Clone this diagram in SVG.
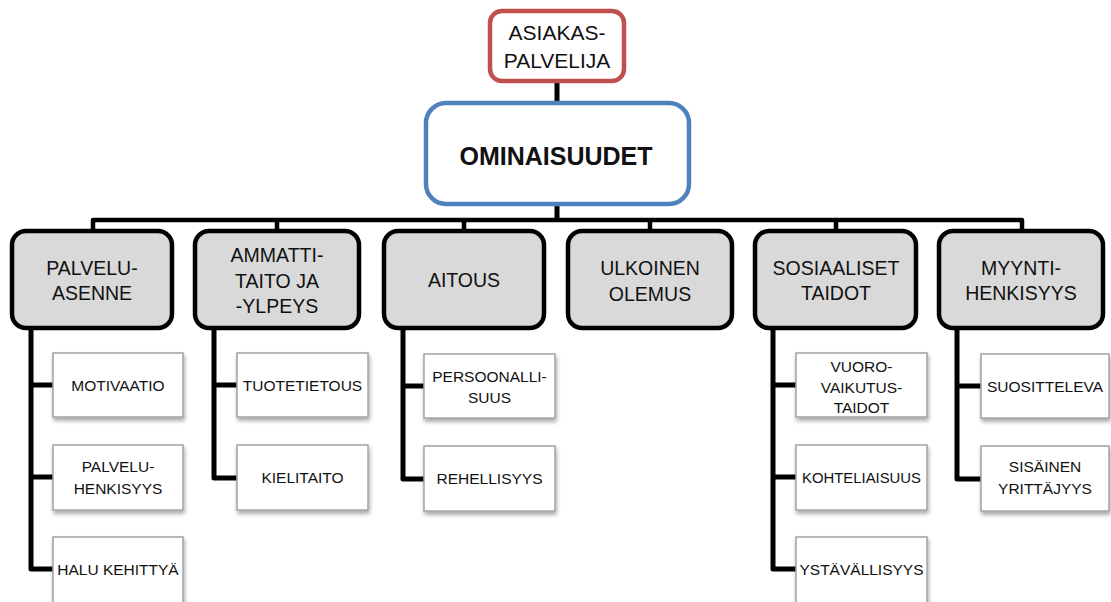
<svg xmlns="http://www.w3.org/2000/svg" width="1111" height="602" viewBox="0 0 1111 602">
  <defs>
    <filter id="shadow" x="-10%" y="-10%" width="125%" height="135%">
      <feDropShadow dx="1" dy="3" stdDeviation="2" flood-color="#000" flood-opacity="0.35"/>
    </filter>
    <style>
      text { font-family: "Liberation Sans", Arial, sans-serif; fill: #111; text-anchor: middle; }
      .root { fill: #fff; stroke: #c0504d; stroke-width: 4.5; }
      .hub { fill: #fff; stroke: #4f81bd; stroke-width: 4.5; }
      .cat { fill: #d9d9d9; stroke: #000; stroke-width: 4.5; }
      .leaf { fill: #fff; stroke: #a3a3a3; stroke-width: 1.5; filter: url(#shadow); }
      .t-root { font-size: 21px; }
      .t-hub { font-size: 25px; font-weight: bold; }
      .t-cat { font-size: 19.5px; }
      .t-leaf { font-size: 15.5px; }
      .wire { fill: none; stroke: #000; stroke-width: 5; stroke-linejoin: round; }
    </style>
  </defs>
  <rect width="1111" height="602" fill="#fff"/>

  <!-- connectors -->
  <g id="connectors" class="wire">
    <path d="M557 81 V103 M557 204 V220"/>
    <path d="M93 232 V220 H1022 V232 M277 220 V232 M464 220 V232 M650 220 V232 M836 220 V232" stroke-width="4.5"/>
    <path d="M53 385 H31 M53 477 H31 M31 328 V569 H53"/>
    <path d="M237 385 H214 M214 328 V478 H237"/>
    <path d="M424 386 H403 M403 328 V479 H424"/>
    <path d="M796 385 H773 M796 477 H773 M773 328 V569 H796"/>
    <path d="M981 386 H957 M957 328 V479 H981"/>
  </g>

  <!-- top level -->
  <g id="asiakaspalvelija">
    <rect class="root" x="490" y="11" width="134" height="70" rx="12"/>
    <text class="t-root" x="557" y="40">ASIAKAS-</text>
    <text class="t-root" x="557" y="68">PALVELIJA</text>
  </g>
  <g id="ominaisuudet">
    <rect class="hub" x="426" y="103" width="263" height="101" rx="20"/>
    <text class="t-hub" x="556" y="165">OMINAISUUDET</text>
  </g>

  <!-- categories -->
  <g id="palveluasenne">
    <rect class="cat" x="12" y="231" width="160" height="97" rx="14"/>
    <text class="t-cat" x="92" y="275">PALVELU-</text>
    <text class="t-cat" x="92" y="300">ASENNE</text>
  </g>
  <g id="ammattitaito">
    <rect class="cat" x="195" y="231" width="164" height="97" rx="14"/>
    <text class="t-cat" x="277" y="262">AMMATTI-</text>
    <text class="t-cat" x="277" y="288">TAITO JA</text>
    <text class="t-cat" x="277" y="313">-YLPEYS</text>
  </g>
  <g id="aitous">
    <rect class="cat" x="384" y="231" width="160" height="97" rx="14"/>
    <text class="t-cat" x="464" y="287">AITOUS</text>
  </g>
  <g id="ulkoinen-olemus">
    <rect class="cat" x="568" y="231" width="164" height="97" rx="14"/>
    <text class="t-cat" x="650" y="275">ULKOINEN</text>
    <text class="t-cat" x="650" y="301">OLEMUS</text>
  </g>
  <g id="sosiaaliset-taidot">
    <rect class="cat" x="755" y="231" width="161" height="97" rx="14"/>
    <text class="t-cat" x="836" y="275">SOSIAALISET</text>
    <text class="t-cat" x="836" y="300">TAIDOT</text>
  </g>
  <g id="myyntihenkisyys">
    <rect class="cat" x="939" y="231" width="164" height="97" rx="14"/>
    <text class="t-cat" x="1021" y="275">MYYNTI-</text>
    <text class="t-cat" x="1021" y="300">HENKISYYS</text>
  </g>

  <!-- leaves: palveluasenne -->
  <g id="motivaatio">
    <rect class="leaf" x="53" y="353" width="130" height="64"/>
    <text class="t-leaf" x="118" y="391">MOTIVAATIO</text>
  </g>
  <g id="palveluhenkisyys">
    <rect class="leaf" x="53" y="445" width="130" height="65"/>
    <text class="t-leaf" x="118" y="472">PALVELU-</text>
    <text class="t-leaf" x="118" y="494">HENKISYYS</text>
  </g>
  <g id="halu-kehittya">
    <rect class="leaf" x="53" y="537" width="130" height="66"/>
    <text class="t-leaf" x="118" y="575">HALU KEHITTYÄ</text>
  </g>

  <!-- leaves: ammattitaito -->
  <g id="tuotetietous">
    <rect class="leaf" x="237" y="353" width="131" height="64"/>
    <text class="t-leaf" x="302.5" y="391">TUOTETIETOUS</text>
  </g>
  <g id="kielitaito">
    <rect class="leaf" x="237" y="445" width="131" height="65"/>
    <text class="t-leaf" x="302.5" y="483">KIELITAITO</text>
  </g>

  <!-- leaves: aitous -->
  <g id="persoonallisuus">
    <rect class="leaf" x="424" y="354" width="131" height="64"/>
    <text class="t-leaf" x="489.5" y="382">PERSOONALLI-</text>
    <text class="t-leaf" x="489.5" y="403">SUUS</text>
  </g>
  <g id="rehellisyys">
    <rect class="leaf" x="424" y="446" width="131" height="65"/>
    <text class="t-leaf" x="489.5" y="484">REHELLISYYS</text>
  </g>

  <!-- leaves: sosiaaliset taidot -->
  <g id="vuorovaikutustaidot">
    <rect class="leaf" x="796" y="353" width="131" height="64"/>
    <text class="t-leaf" x="861.5" y="372">VUORO-</text>
    <text class="t-leaf" x="861.5" y="393">VAIKUTUS-</text>
    <text class="t-leaf" x="861.5" y="413">TAIDOT</text>
  </g>
  <g id="kohteliaisuus">
    <rect class="leaf" x="796" y="445" width="131" height="65"/>
    <text class="t-leaf" x="861.5" y="483" textLength="119" lengthAdjust="spacingAndGlyphs">KOHTELIAISUUS</text>
  </g>
  <g id="ystavallisyys">
    <rect class="leaf" x="796" y="537" width="131" height="66"/>
    <text class="t-leaf" x="861.5" y="575">YSTÄVÄLLISYYS</text>
  </g>

  <!-- leaves: myyntihenkisyys -->
  <g id="suositteleva">
    <rect class="leaf" x="981" y="354" width="128" height="64"/>
    <text class="t-leaf" x="1045" y="392">SUOSITTELEVA</text>
  </g>
  <g id="sisainen-yrittajyys">
    <rect class="leaf" x="981" y="446" width="128" height="65"/>
    <text class="t-leaf" x="1045" y="472">SISÄINEN</text>
    <text class="t-leaf" x="1045" y="494">YRITTÄJYYS</text>
  </g>
</svg>
